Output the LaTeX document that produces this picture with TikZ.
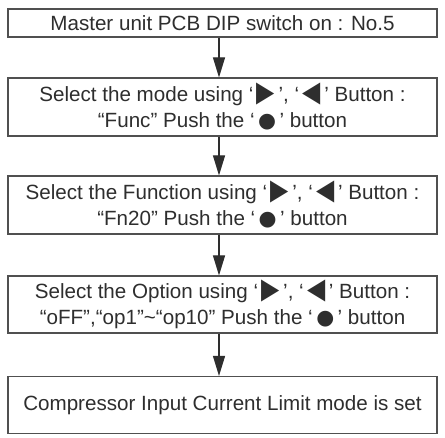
\documentclass[tikz,border=0pt]{standalone}
\usepackage{fontspec}
\setmainfont{Liberation Sans}
\newfontfamily\symfont{DejaVu Sans}
\usetikzlibrary{arrows.meta}
\definecolor{ink}{HTML}{2E2E2E}
\definecolor{frame}{HTML}{505050}
\newcommand{\rtri}{\,{\symfont\scalebox{1.15}[1.4]{▶}}\,}
\newcommand{\ltri}{\,{\symfont\scalebox{1.15}[1.4]{◀}}\,}
\newcommand{\bdot}{\,{\symfont\scalebox{1.0}{●}}\,}
\begin{document}
\begin{tikzpicture}[x=1pt,y=1pt,
  stepbox/.style={draw=frame, line width=1.1pt, minimum width=429pt, inner sep=0pt,
    align=center, text=ink, font=\fontsize{20.6}{26}\selectfont},
  flow/.style={draw=ink, line width=1.1pt, -{Triangle[length=20pt,width=12pt]}}]
\useasboundingbox (0,0) rectangle (445,437);
\fill[white] (0,0) rectangle (445,437);
\node[stepbox, minimum height=28pt] (b1) at (222.5,414) {Master unit PCB DIP switch on : No.5};
\node[stepbox, minimum height=58pt] (b2) at (222.5,330) {Select the mode using ‘\rtri’, ‘\ltri’ Button :\\“Func” Push the ‘\bdot’ button};
\node[stepbox, minimum height=58pt] (b3) at (222.5,232) {Select the Function using ‘\rtri’, ‘\ltri’ Button :\\“Fn20” Push the ‘\bdot’ button};
\node[stepbox, minimum height=57pt] (b4) at (222.5,132.5) {Select the Option using ‘\rtri’, ‘\ltri’ Button :\\“oFF”,“op1”\textasciitilde“op10” Push the ‘\bdot’ button};
\node[stepbox, minimum height=57pt] (b5) at (222.5,32) {Compressor Input Current Limit mode is set};
\draw[flow] ([xshift=-3.5pt]b1.south) -- ([xshift=-3.5pt]b2.north);
\draw[flow] ([xshift=-3.5pt]b2.south) -- ([xshift=-3.5pt]b3.north);
\draw[flow] ([xshift=-3.5pt]b3.south) -- ([xshift=-3.5pt]b4.north);
\draw[flow] ([xshift=-3.5pt]b4.south) -- ([xshift=-3.5pt]b5.north);
\end{tikzpicture}
\end{document}
